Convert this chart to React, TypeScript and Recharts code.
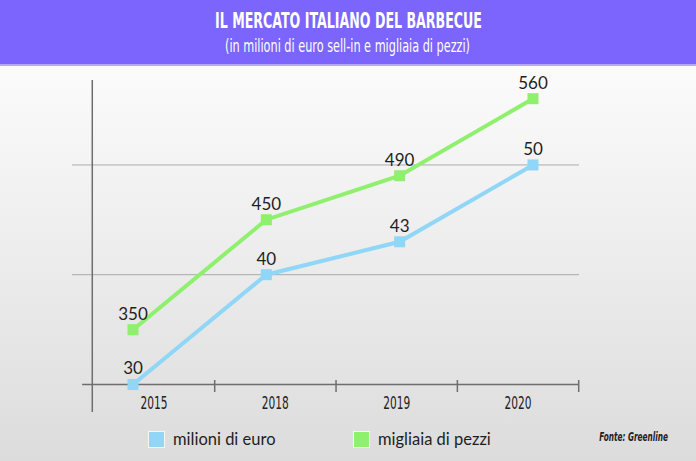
import React from 'react'
import { LineChart, Line, XAxis, YAxis, ReferenceLine, LabelList } from 'recharts'

// dati
const years = ['2015', '2018', '2019', '2020']
const euroValues = [30, 40, 43, 50]
const pezziValues = [350, 450, 490, 560]
const euroGrid = [40, 50]
const euroBase = 30

const data = years.map((year, i) => ({ year, euro: euroValues[i], pezzi: pezziValues[i] }))

const BLUE = '#8fd6f7'
const GREEN = '#8ef06c'
const NARROW = '"Liberation Sans Narrow", "DejaVu Sans Condensed", "Roboto", sans-serif'
const ROUND = 'Lato, "Noto Sans", sans-serif'
const TICK_HALF = 60.7

const series = [
  { key: 'euro', name: 'milioni di euro', color: BLUE },
  { key: 'pezzi', name: 'migliaia di pezzi', color: GREEN },
]

function SquareDot(props: any) {
  const { cx, cy, stroke } = props
  if (cx == null || cy == null) return null
  return <rect x={cx - 5.5} y={cy - 5.5} width={11} height={11} fill={stroke} />
}

function YearTick(props: any) {
  const { x, y, payload } = props
  return (
    <g>
      <text
        x={x}
        y={y - 33}
        textAnchor="middle"
        fontFamily={NARROW}
        fontSize={17}
        fill="#222"
        textLength={27}
        lengthAdjust="spacingAndGlyphs"
      >
        {payload.value}
      </text>
      <line x1={x + TICK_HALF} x2={x + TICK_HALF} y1={y - 62} y2={y - 50} stroke="#6e6e6e" strokeWidth={1.5} />
    </g>
  )
}

const labelStyle = { fontFamily: ROUND, fontSize: 17, fill: '#1e1e1e' }

export default function App() {
  return (
    <div
      style={{
        position: 'relative',
        width: 696,
        height: 461,
        overflow: 'hidden',
        background: 'linear-gradient(180deg, #ffffff 0px, #fbfbfb 70px, #e9e9e9 300px, #dcdcdc 461px)',
      }}
    >
      <style>{`body{margin:0}`}</style>
      <div
        style={{
          position: 'absolute',
          left: 0,
          top: 0,
          width: 696,
          height: 64,
          background: '#7b65fc',
          borderBottom: '2px solid #b5a9fb',
        }}
      >
        <svg width={696} height={64}>
          <text
            x={348.5}
            y={28}
            textAnchor="middle"
            fill="#ffffff"
            fontFamily={NARROW}
            fontWeight="bold"
            fontSize={21}
            textLength={267}
            lengthAdjust="spacingAndGlyphs"
          >
            IL MERCATO ITALIANO DEL BARBECUE
          </text>
          <text
            x={347.5}
            y={52}
            textAnchor="middle"
            fill="#ffffff"
            fontFamily={NARROW}
            fontSize={17}
            textLength={245}
            lengthAdjust="spacingAndGlyphs"
          >
            (in milioni di euro sell-in e migliaia di pezzi)
          </text>
        </svg>
      </div>

      <div style={{ position: 'absolute', left: 0, top: 0 }}>
        <LineChart width={696} height={461} data={data} margin={{ top: 80, right: 117, bottom: 19, left: 72 }}>
          <XAxis
            xAxisId="lbl"
            dataKey="year"
            height={30}
            padding={{ left: 82, right: 61 }}
            axisLine={false}
            tickLine={false}
            tickSize={0}
            tickMargin={0}
            interval={0}
            tick={<YearTick />}
          />
          <XAxis xAxisId="pts" dataKey="year" hide padding={{ left: 61, right: 46 }} />
          <XAxis xAxisId="frame" type="number" dataKey="euro" domain={[0, 100]} allowDataOverflow hide />
          <YAxis yAxisId="eur" hide domain={[27.49, 57.74]} allowDataOverflow />
          <YAxis yAxisId="pz" hide orientation="right" domain={[275.2, 577.0]} allowDataOverflow />

          {euroGrid.map((v) => (
            <ReferenceLine
              key={v}
              xAxisId="frame"
              yAxisId="eur"
              y={v}
              stroke="#ababab"
              strokeWidth={1}
              ifOverflow="visible"
            />
          ))}
          <ReferenceLine
            xAxisId="frame"
            yAxisId="eur"
            segment={[
              { x: 2, y: euroBase },
              { x: 100, y: euroBase },
            ]}
            stroke="#6e6e6e"
            strokeWidth={1.5}
            ifOverflow="visible"
          />
          <ReferenceLine
            xAxisId="frame"
            yAxisId="eur"
            x={4}
            stroke="#6e6e6e"
            strokeWidth={1.5}
            ifOverflow="visible"
          />

          <Line
            xAxisId="pts"
            yAxisId="eur"
            dataKey="euro"
            stroke={BLUE}
            strokeWidth={4}
            dot={<SquareDot />}
            activeDot={false}
            isAnimationActive={false}
          >
            <LabelList dataKey="euro" position="top" offset={10} style={labelStyle} />
          </Line>
          <Line
            xAxisId="pts"
            yAxisId="pz"
            dataKey="pezzi"
            stroke={GREEN}
            strokeWidth={4}
            dot={<SquareDot />}
            activeDot={false}
            isAnimationActive={false}
          >
            <LabelList dataKey="pezzi" position="top" offset={10} style={labelStyle} />
          </Line>
        </LineChart>
      </div>

      <div
        style={{
          position: 'absolute',
          left: 148,
          top: 429,
          display: 'flex',
          alignItems: 'center',
          fontFamily: ROUND,
          fontSize: 16.5,
          color: '#1e1e1e',
        }}
      >
        {series.map((s, i) => (
          <div key={s.key} style={{ display: 'flex', alignItems: 'center', width: i === 0 ? 205 : 'auto' }}>
            <span
              style={{
                display: 'inline-block',
                width: 15,
                height: 15,
                background: s.color,
                border: '1px solid #f6f6f6',
                marginRight: 8,
              }}
            />
            <span>{s.name}</span>
          </div>
        ))}
      </div>

      <div
        style={{
          position: 'absolute',
          right: 28,
          top: 430,
          fontFamily: NARROW,
          fontStyle: 'italic',
          fontWeight: 'bold',
          fontSize: 12,
          lineHeight: '14px',
          color: '#222',
          whiteSpace: 'nowrap',
          transform: 'scaleX(0.68)',
          transformOrigin: 'right center',
        }}
      >
        Fonte: Greenline
      </div>
    </div>
  )
}
